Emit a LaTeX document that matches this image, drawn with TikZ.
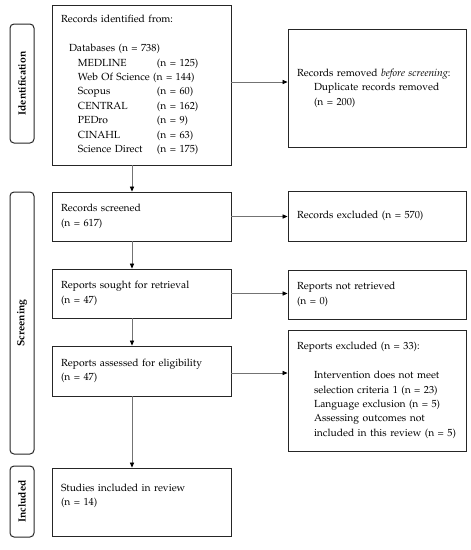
\documentclass[tikz,border=0pt]{standalone}
\usepackage[T1]{fontenc}
\usepackage{mathpazo}
\usepackage{xcolor}
\usepackage{tikz}
\usetikzlibrary{positioning,calc,arrows.meta}

\begin{document}
\begin{tikzpicture}[
						x=1pt, y=-1pt,
						box/.style={rectangle, draw=black!85, line width=0.9pt, align=left, inner xsep=9pt, inner ysep=0pt,
							font=\fontsize{10.3}{14.4}\selectfont},
						leftbox/.style={box, text width=161pt, minimum width=179pt},
						rightbox/.style={box, text width=160pt, minimum width=178pt},
						phase/.style={rectangle, rounded corners=4pt, draw=black!85, line width=1pt, rotate=90,
							minimum height=24pt, inner sep=0pt, font=\fontsize{10.4}{12}\selectfont\bfseries},
						arr/.style={draw=black!55, line width=0.7pt, -{Triangle[black, length=5pt, width=4.2pt]}}
						]
						\useasboundingbox (0,0) rectangle (471,550);
						
						% phases
						\node[phase, minimum width=119pt] (pid) at (22,83.5) {Identification};
						\node[phase, minimum width=262pt] (psc) at (22,323) {Screening};
						\node[phase, minimum width=71pt]  (pin) at (22,501.5) {Included};
						
						% left column
						\node[leftbox, minimum height=160pt] (ident) at (141.5,85) {Records identified from:\\[14.4pt]
							\hspace*{8pt}Databases (n = 738)\\
							\hspace*{17pt}\makebox[79pt][l]{MEDLINE}(n = 125)\\
							\hspace*{17pt}\mbox{Web Of Science (n = 144)}\\
							\hspace*{17pt}\makebox[79pt][l]{Scopus}(n = 60)\\
							\hspace*{17pt}\makebox[79pt][l]{CENTRAL}(n = 162)\\
							\hspace*{17pt}\makebox[79pt][l]{PEDro}(n = 9)\\
							\hspace*{17pt}\makebox[79pt][l]{CINAHL}(n = 63)\\
							\hspace*{17pt}\makebox[79pt][l]{Science Direct}(n = 175)};
						\node[leftbox, minimum height=49pt] (screen) at (141.5,216.5) {Records screened\\(n = 617)};
						\node[leftbox, minimum height=49pt] (sought) at (141.5,293.5) {Reports sought for retrieval\\(n = 47)};
						\node[leftbox, minimum height=50pt] (assess) at (141.5,371) {\mbox{Reports assessed for eligibility}\\(n = 47)};
						\node[leftbox, minimum height=68pt] (incl) at (141.5,502) {Studies included in review\\(n = 14)\\\mbox{}};
						
						% right column
						\node[rightbox, minimum height=118pt] (removed) at (377,88) {\mbox{Records removed \emph{before screening}:}\\
							\hspace*{17pt}Duplicate records removed\\
							\hspace*{17pt}(n = 200)};
						\node[rightbox, minimum height=50pt] (excl) at (377,216) {Records excluded (n = 570)};
						\node[rightbox, minimum height=49pt] (notret) at (377,294.5) {Reports not retrieved\\(n = 0)};
						\node[rightbox, minimum height=121pt] (rexcl) at (377,390.5) {Reports excluded (n = 33):\\[14.4pt]
							\hspace*{17pt}Intervention does not meet\\
							\hspace*{17pt}\mbox{selection criteria 1 (n = 23)}\\
							\hspace*{17pt}Language exclusion (n = 5)\\
							\hspace*{17pt}Assessing outcomes not\\
							\hspace*{17pt}\mbox{included in this review (n = 5)}};
						
						\coordinate (spine) at (132,0);
						
						\draw[arr] (ident.south -| spine) -- (screen.north -| spine);
						\draw[arr] (screen.south -| spine) -- (sought.north -| spine);
						\draw[arr] (sought.south -| spine) -- (assess.north -| spine);
						\draw[arr] (assess.south -| spine) -- (incl.north -| spine);
						
						\draw[arr] ([yshift=3pt]ident.east) -- ([yshift=3pt]ident.east -| removed.west);
						\draw[arr] (screen.east) -- (screen.east -| excl.west);
						\draw[arr] (sought.east) -- (sought.east -| notret.west);
						\draw[arr] ([yshift=-2pt]assess.east) -- ([yshift=-2pt]assess.east -| rexcl.west);
					\end{tikzpicture}
\end{document}
